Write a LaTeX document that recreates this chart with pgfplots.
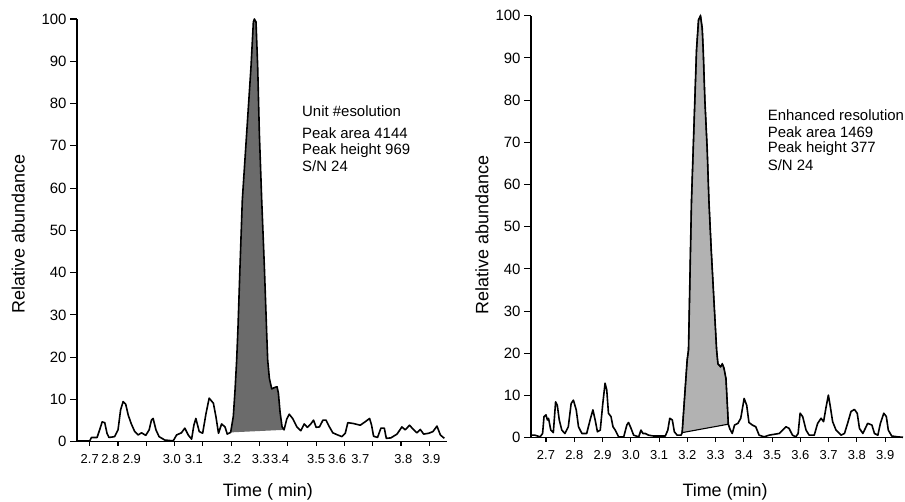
\documentclass[border=0pt]{standalone}
\usepackage{pgfplots}
\pgfplotsset{compat=1.18}
\usepackage{fontspec}
\setmainfont{Liberation Sans}
\definecolor{darkfill}{HTML}{6B6B6B}
\definecolor{lightfill}{HTML}{B2B2B2}
\tikzset{
  curve/.style={black,line width=1.6bp,line join=round},
  note/.style={anchor=west,font=\fontsize{15}{15}\selectfont,inner sep=0pt},
}
\pgfplotsset{
  chrom/.style={
    scale only axis,
    anchor=south west,
    axis x line=bottom,
    axis y line=left,
    axis line style={line width=1.5bp,-},
    clip=false,
    enlargelimits=false,
    ymin=0, ymax=100,
    ytick={0,10,20,30,40,50,60,70,80,90,100},
    tick align=outside,
    major tick length=7bp,
    tick style={black,line width=1.1bp},
    xtick style={/pgfplots/major tick length=4bp},
    /pgf/number format/assume math mode=true,
    yticklabel style={font=\fontsize{15}{15}\selectfont},
    xticklabel style={font=\fontsize{13}{13}\selectfont,yshift=-2bp},
    label style={font=\fontsize{18}{18}\selectfont},
  },
}
\begin{document}
\begin{tikzpicture}
\useasboundingbox (0,0) rectangle (905bp,502bp);
% ---------------- Left panel ----------------
\begin{axis}[chrom,
  at={(77bp,60.3bp)}, width=370bp, height=422.7bp,
  xmin=2.655, xmax=3.9625,
  xtick={2.700,2.773,2.849,2.990,3.068,3.203,3.305,3.373,3.500,3.574,3.656,3.808,3.907},
  xticklabels={2.7,2.8,2.9,3.0,3.1,3.2,3.3,3.4,3.5,3.6,3.7,3.8,3.9},
  xtick style={draw=none},
  extra x ticks={2.7,2.8,2.9,3.0,3.1,3.2,3.3,3.4,3.5,3.6,3.7,3.8,3.9},
  extra x tick labels={},
  extra x tick style={xtick style={draw=black}},
  xlabel={Time ( min)},
  ylabel={Relative abundance},
  xlabel style={at={(axis description cs:0.516,-0.119)},anchor=center},
  ylabel style={at={(axis description cs:-0.159,0.491)},anchor=center},
]
\addplot[draw=none,fill=darkfill] coordinates {
(3.198,2.2)(3.2074,6)(3.2133,12)(3.2192,19.3)(3.2239,27)(3.2310,41.4)(3.2392,57.2)(3.2546,73)(3.2699,88.7)(3.2782,99.3)(3.2817,100)(3.2876,99.3)(3.2935,88.7)(3.2994,73)(3.3077,57.2)(3.3171,41.4)(3.3254,25.6)(3.3289,19.3)(3.3348,15)(3.3431,12.5)(3.3525,12.8)(3.3619,13.0)(3.3667,11.5)(3.3726,7)(3.3797,3.5)(3.3867,2.8)
} -- cycle;
\addplot[curve] coordinates {
(2.655,0.2)(2.700,0.2)(2.706,1.0)(2.726,1.0)(2.735,2.8)(2.744,4.7)(2.753,4.5)(2.761,2.0)(2.768,1.0)(2.788,1.2)(2.800,2.8)(2.809,7.5)(2.818,9.5)(2.827,8.9)(2.836,6.3)(2.847,4.2)(2.859,2.4)(2.871,1.6)(2.883,2.1)(2.898,1.5)(2.910,2.8)(2.918,5.1)(2.924,5.5)(2.934,2.8)(2.945,1.2)(2.965,0.4)(2.995,0.2)(3.007,1.6)(3.024,2.1)(3.036,3.2)(3.048,1.6)(3.060,0.6)(3.068,3.9)(3.075,5.5)(3.087,2.4)(3.099,2.0)(3.111,6.7)(3.122,10.3)(3.137,9.1)(3.146,5.9)(3.155,2.0)(3.166,4.2)(3.178,3.5)(3.186,1.8)(3.198,2.2)
(3.2074,6)(3.2133,12)(3.2192,19.3)(3.2239,27)(3.2310,41.4)(3.2392,57.2)(3.2546,73)(3.2699,88.7)(3.2782,99.3)(3.2817,100)(3.2876,99.3)(3.2935,88.7)(3.2994,73)(3.3077,57.2)(3.3171,41.4)(3.3254,25.6)(3.3289,19.3)(3.3348,15)(3.3431,12.5)(3.3525,12.8)(3.3619,13.0)(3.3667,11.5)(3.3726,7)(3.3797,3.5)(3.3867,2.8)
(3.396,5.3)(3.405,6.5)(3.417,5.5)(3.432,3.5)(3.446,2.6)(3.458,4.2)(3.469,3.4)(3.481,4.2)(3.491,5.1)(3.500,3.4)(3.512,3.5)(3.524,5.1)(3.535,5.1)(3.547,3.5)(3.559,2.1)(3.576,1.6)(3.591,1.2)(3.603,2.0)(3.612,4.5)(3.632,4.3)(3.656,3.9)(3.673,4.7)(3.689,5.5)(3.696,3.9)(3.703,1.3)(3.717,1.0)(3.729,3.2)(3.741,3.2)(3.748,0.8)(3.764,0.9)(3.786,1.8)(3.803,3.5)(3.815,2.8)(3.830,3.9)(3.845,2.8)(3.856,2.1)(3.868,2.9)(3.880,1.8)(3.898,2.0)(3.913,2.4)(3.927,3.7)(3.939,1.6)(3.953,0.8)
};
\node[note] at (axis cs:3.450,78.1) {Unit \#esolution};
\node[note] at (axis cs:3.450,73.0) {Peak area 4144};
\node[note] at (axis cs:3.450,68.8) {Peak height 969};
\node[note] at (axis cs:3.450,65.1) {S/N 24};
\end{axis}
% ---------------- Right panel ----------------
\begin{axis}[chrom,
  at={(531bp,64.3bp)}, width=372bp, height=422bp,
  xmin=2.647, xmax=3.963,
  xtick={2.7,2.8,2.9,3.0,3.1,3.2,3.3,3.4,3.5,3.6,3.7,3.8,3.9},
  xticklabels={2.7,2.8,2.9,3.0,3.1,3.2,3.3,3.4,3.5,3.6,3.7,3.8,3.9},
  xlabel={Time (min)},
  ylabel={Relative abundance},
  xlabel style={at={(axis description cs:0.5215,-0.129)},anchor=center},
  ylabel style={at={(axis description cs:-0.132,0.480)},anchor=center},
]
\addplot[draw=black,line width=1.1bp,fill=lightfill] coordinates {
(3.1817,1.2)(3.1994,18.4)(3.2041,20.8)(3.2077,32.6)(3.2112,44.5)(3.2148,56.3)(3.2207,68.2)(3.2266,80)(3.2325,91.9)(3.2396,99)(3.2467,100)(3.2527,97)(3.2562,91.9)(3.2621,80)(3.2704,68.2)(3.2763,56.3)(3.2846,44.5)(3.2941,32.6)(3.3036,20.8)(3.3083,17.5)(3.3178,16.8)(3.3237,17.5)(3.3296,16.5)(3.3367,14)(3.3414,8)(3.3450,3.2)
} -- cycle;
\addplot[curve] coordinates {
(2.647,0.6)(2.661,0.6)(2.679,0.2)(2.688,1.0)(2.693,5.0)(2.700,5.4)(2.705,4.2)(2.709,4.6)(2.717,1.8)(2.726,1.2)(2.734,8.5)(2.740,7.7)(2.747,4.2)(2.756,1.8)(2.767,1.0)(2.779,2.6)(2.789,8.1)(2.797,8.9)(2.807,6.6)(2.815,2.6)(2.827,1.0)(2.844,1.0)(2.856,4.2)(2.866,6.6)(2.874,4.2)(2.882,1.4)(2.892,1.8)(2.901,8.1)(2.909,12.9)(2.915,11.3)(2.921,5.8)(2.930,5.0)(2.937,2.6)(2.945,1.8)(2.957,0.2)(2.975,0.2)(2.986,3.0)(2.992,3.6)(3.001,2.2)(3.010,0.6)(3.028,0.2)(3.036,1.8)(3.043,1.0)(3.051,1.0)(3.063,0.6)(3.081,0.4)(3.122,0.4)(3.131,1.8)(3.138,4.6)(3.147,4.2)(3.154,1.4)(3.164,0.6)(3.178,0.6)(3.1817,1.2)
(3.1994,18.4)(3.2041,20.8)(3.2077,32.6)(3.2112,44.5)(3.2148,56.3)(3.2207,68.2)(3.2266,80)(3.2325,91.9)(3.2396,99)(3.2467,100)(3.2527,97)(3.2562,91.9)(3.2621,80)(3.2704,68.2)(3.2763,56.3)(3.2846,44.5)(3.2941,32.6)(3.3036,20.8)(3.3083,17.5)(3.3178,16.8)(3.3237,17.5)(3.3296,16.5)(3.3367,14)(3.3414,8)(3.3450,3.2)
(3.351,2.0)(3.359,1.0)(3.367,3.0)(3.379,3.4)(3.389,4.6)(3.401,9.3)(3.410,7.7)(3.418,3.6)(3.430,3.0)(3.442,2.6)(3.454,0.6)(3.472,0.2)(3.489,0.6)(3.507,0.8)(3.525,1.0)(3.537,1.8)(3.549,2.6)(3.560,2.2)(3.572,0.6)(3.584,0.2)(3.592,1.0)(3.599,5.8)(3.608,5.0)(3.620,1.8)(3.631,0.6)(3.649,0.6)(3.661,3.4)(3.673,4.6)(3.682,3.8)(3.691,7.3)(3.699,10.1)(3.706,7.3)(3.714,3.8)(3.726,1.8)(3.744,0.6)(3.756,1.0)(3.767,3.4)(3.779,6.2)(3.791,6.7)(3.801,5.8)(3.809,2.2)(3.821,1.0)(3.838,3.4)(3.853,3.0)(3.862,1.0)(3.874,0.6)(3.883,3.4)(3.895,5.8)(3.904,5.0)(3.911,1.8)(3.923,0.4)(3.944,0.2)(3.963,0.1)
};
\node[note] at (axis cs:3.484,76.5) {Enhanced resolution};
\node[note] at (axis cs:3.484,72.5) {Peak area 1469};
\node[note] at (axis cs:3.484,68.6) {Peak height 377};
\node[note] at (axis cs:3.484,64.6) {S/N 24};
\end{axis}
\end{tikzpicture}
\end{document}
